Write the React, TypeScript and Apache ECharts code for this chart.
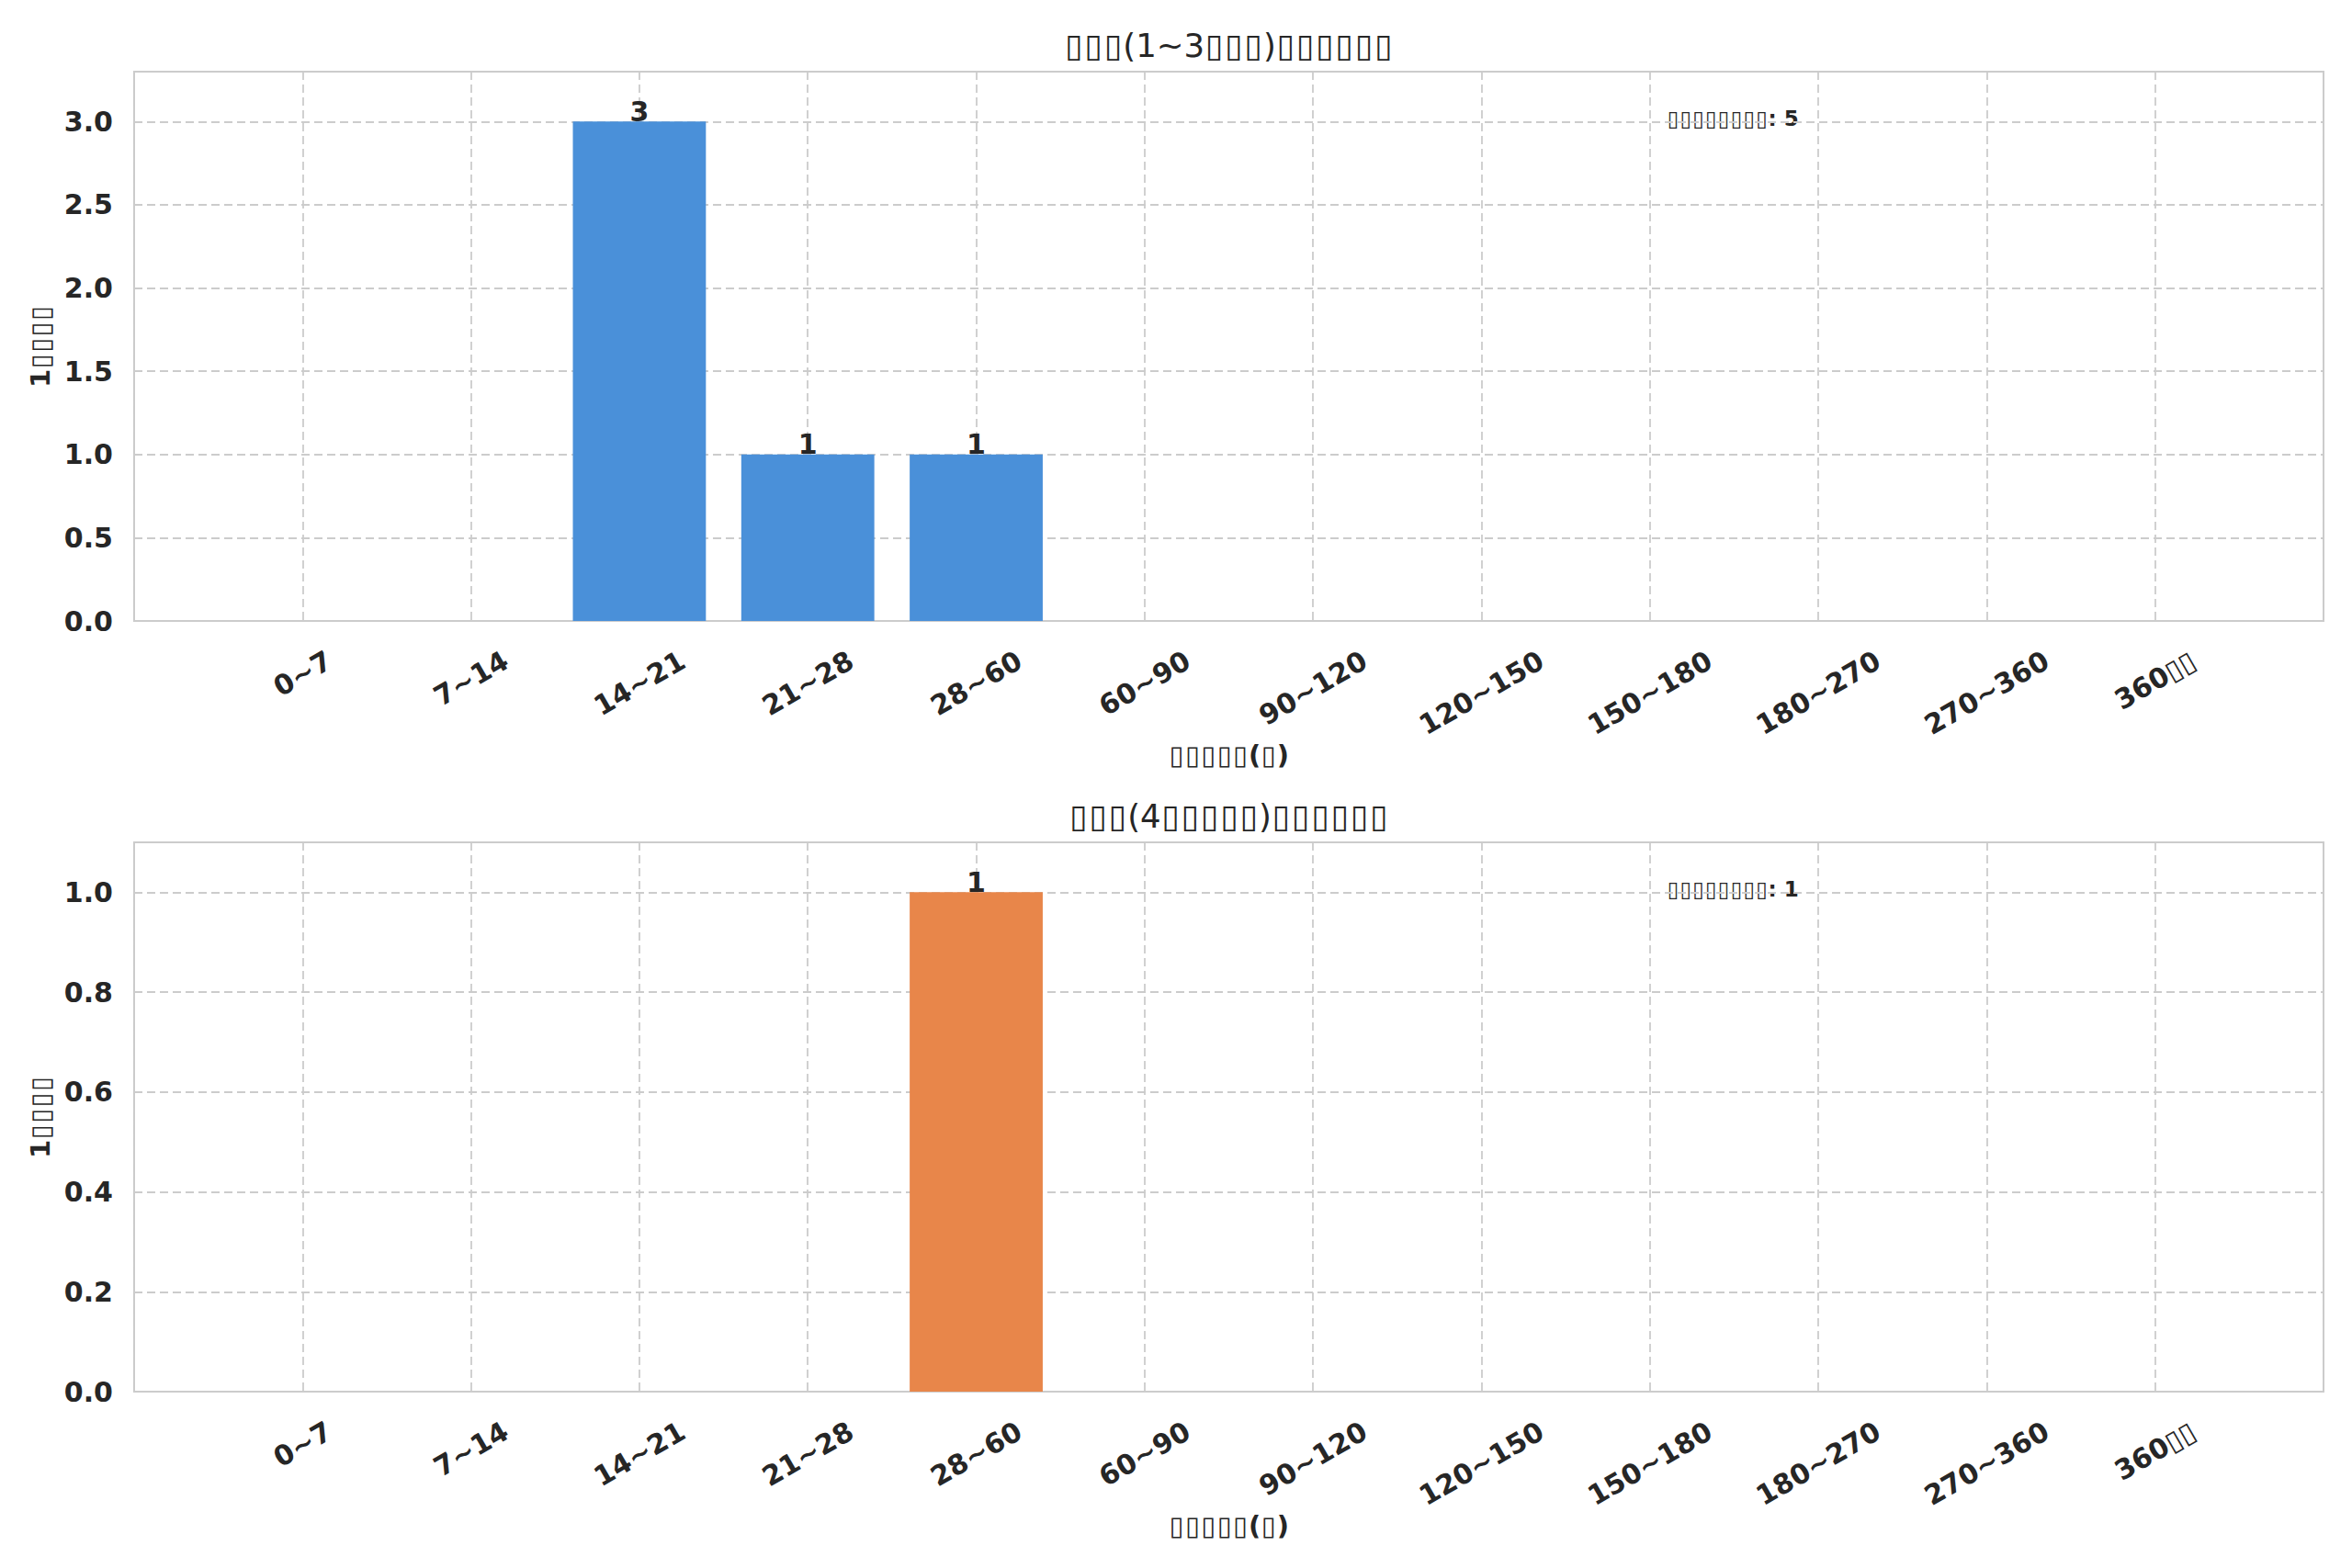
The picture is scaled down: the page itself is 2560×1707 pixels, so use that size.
import React, { useEffect, useRef } from "react";
import * as echarts from "echarts";

const categories = ["0~7", "7~14", "14~21", "21~28", "28~60", "60~90", "90~120", "120~150", "150~180", "180~270", "270~360", "360▯▯"];
const valuesTop = [0, 0, 3, 1, 1, 0, 0, 0, 0, 0, 0, 0];
const valuesBottom = [0, 0, 0, 0, 1, 0, 0, 0, 0, 0, 0, 0];
const titleTop = "▯▯▯(1~3▯▯▯)▯▯▯▯▯▯";
const titleBottom = "▯▯▯(4▯▯▯▯▯)▯▯▯▯▯▯";
const xName = "▯▯▯▯▯(▯)";
const yName = "1▯▯▯▯";
const notePrefix = "▯▯▯▯▯▯▯▯";
const yTicksTop = { max: 3.3, interval: 0.5 };
const yTicksBottom = { max: 1.1, interval: 0.2 };
const colorTop = "#4A90D9";
const colorBottom = "#E8864A";

const FONT = "'DejaVu Sans', sans-serif";
const TEXT = "#262626";
const GRIDC = "#cccccc";

let measureCtx: CanvasRenderingContext2D | null = null;
function measure(text: string, font: string): number {
  if (!measureCtx) measureCtx = document.createElement("canvas").getContext("2d");
  if (!measureCtx) return text.length * 18;
  measureCtx.font = font;
  return measureCtx.measureText(text).width;
}

// Split a string into rich tokens: tofu boxes get a fixed-width token, other runs get the text style
function toRich(s: string, boxKey: string, textKey: string): string {
  let out = "";
  let run = "";
  for (const ch of s) {
    if (ch === "▯") {
      if (run) {
        out += `{${textKey}|${run}}`;
        run = "";
      }
      out += `{${boxKey}|▯}`;
    } else run += ch;
  }
  if (run) out += `{${textKey}|${run}}`;
  return out;
}

function richStyles(size: number, weight: string, boxWeight: string, useFill: boolean) {
  const col = useFill ? { fill: TEXT } : { color: TEXT };
  return {
    bx: { fontSize: size, fontFamily: FONT, fontWeight: boxWeight, width: size * 0.6, align: "center", ...col },
    tx: { fontSize: size, fontFamily: FONT, fontWeight: weight, ...col },
  };
}

const padded = ["", ...categories, ""];
const LEFT = 146;
const RIGHT = 31;
const PH = 598;
const TOPS = [78, 917];

export default function App() {
  const ref = useRef<HTMLDivElement>(null);
  useEffect(() => {
    if (!ref.current) return;
    const chart = echarts.init(ref.current, undefined, { renderer: "svg" });
    const tickFont = `bold 30px ${FONT}`;
    const sets = [
      { values: valuesTop, color: colorTop, ticks: yTicksTop, title: titleTop },
      { values: valuesBottom, color: colorBottom, ticks: yTicksBottom, title: titleBottom },
    ];
    const grids = sets.map((_, g) => ({
      left: LEFT,
      right: RIGHT,
      top: TOPS[g],
      height: PH,
      show: true,
      borderColor: GRIDC,
      borderWidth: 2,
      backgroundColor: "#ffffff",
    }));
    const xAxes = sets.map((_, g) => ({
      type: "category",
      gridIndex: g,
      data: padded,
      boundaryGap: false,
      axisLine: { show: false },
      axisTick: { show: false },
      axisLabel: { show: false },
      splitLine: { show: true, interval: 0, lineStyle: { color: GRIDC, width: 1.8, type: [9, 5] } },
      name: toRich(xName, "bx", "tx"),
      nameLocation: "middle",
      nameGap: 146,
      nameTextStyle: {
        align: "center",
        verticalAlign: "middle",
        rich: richStyles(29, "bold", "normal", false),
      },
    }));
    const yAxes = sets.map((s, g) => ({
      type: "value",
      gridIndex: g,
      min: 0,
      max: s.ticks.max,
      interval: s.ticks.interval,
      axisLine: { show: false },
      axisTick: { show: false },
      axisLabel: {
        showMaxLabel: false,
        margin: 23,
        fontSize: 30,
        fontWeight: "bold",
        fontFamily: FONT,
        color: TEXT,
        formatter: (v: number) => v.toFixed(1),
      },
      splitLine: { show: true, lineStyle: { color: GRIDC, width: 1.8, type: [9, 5] } },
      name: toRich(yName, "bx", "tx"),
      nameLocation: "middle",
      nameRotate: 90,
      nameGap: 97,
      nameTextStyle: {
        align: "center",
        verticalAlign: "middle",
        rich: richStyles(29, "bold", "normal", false),
      },
    }));
    const series: any[] = [];
    sets.forEach((s, g) => {
      series.push({
        type: "bar",
        xAxisIndex: g,
        yAxisIndex: g,
        data: [null, ...s.values, null],
        barWidth: "79%",
        itemStyle: { color: s.color },
        label: {
          show: true,
          position: "top",
          distance: -4,
          fontSize: 30,
          fontWeight: "bold",
          fontFamily: FONT,
          color: TEXT,
          formatter: (p: any) => (p.value ? String(p.value) : ""),
        },
        z: 3,
      });
      series.push({
        type: "custom",
        xAxisIndex: g,
        yAxisIndex: g,
        silent: true,
        clip: false,
        z: 5,
        data: categories.map((_, i) => [i + 1, 0]),
        renderItem: (params: any, api: any) => {
          const i = params.dataIndex;
          const text = categories[i];
          const p = api.coord([api.value(0), 0]);
          const w = measure(text, tickFont);
          const h = 29;
          const H = 0.5 * w + 0.866 * h;
          return {
            type: "text",
            x: p[0],
            y: p[1] + 28 + H / 2,
            rotation: Math.PI / 6,
            style: {
              text,
              align: "center",
              verticalAlign: "middle",
              font: tickFont,
              fill: TEXT,
            },
          };
        },
      });
    });
    const graphics: any[] = [];
    sets.forEach((s, g) => {
      const total = s.values.reduce((a, b) => a + b, 0);
      graphics.push({
        type: "text",
        x: LEFT + (2560 - LEFT - RIGHT) / 2,
        y: TOPS[g] - 29,
        style: {
          text: toRich(s.title, "bx", "tx"),
          align: "center",
          verticalAlign: "middle",
          rich: richStyles(35.5, "normal", "normal", true),
        },
      });
      graphics.push({
        type: "text",
        x: LEFT + (2560 - LEFT - RIGHT) * 0.7,
        y: TOPS[g] + PH * 0.085,
        style: {
          text: toRich(`${notePrefix}: ${total}`, "bx", "tx"),
          align: "left",
          verticalAlign: "middle",
          rich: richStyles(23, "bold", "normal", true),
        },
      });
    });
    chart.setOption({
      animation: false,
      backgroundColor: "#ffffff",
      grid: grids,
      xAxis: xAxes,
      yAxis: yAxes,
      series,
      graphic: graphics,
    });
    return () => chart.dispose();
  }, []);
  return (
    <div
      ref={ref}
      style={{ position: "absolute", left: 0, top: 0, width: 2560, height: 1707, background: "#fff" }}
    />
  );
}
